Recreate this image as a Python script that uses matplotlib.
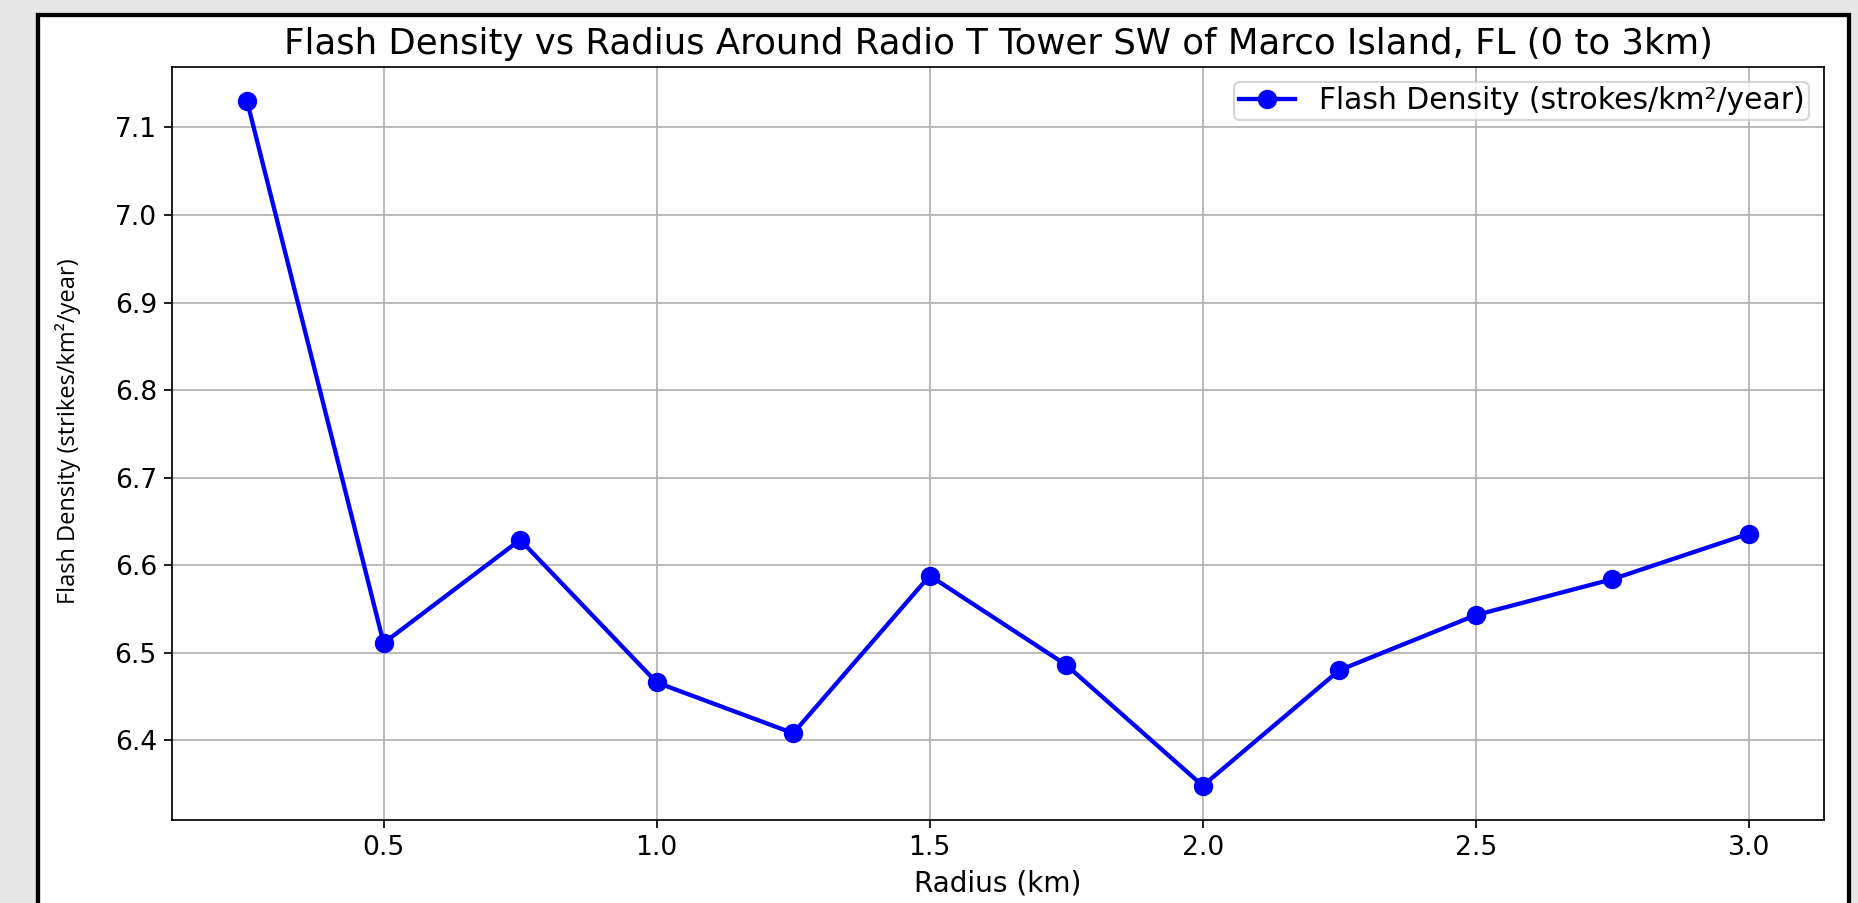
import matplotlib.pyplot as plt
from matplotlib.patches import Rectangle

radius_km = [0.25, 0.5, 0.75, 1.0, 1.25, 1.5, 1.75, 2.0, 2.25, 2.5, 2.75, 3.0]
flash_density = [7.130, 6.511, 6.629, 6.466, 6.408, 6.588, 6.486, 6.348, 6.480, 6.543, 6.584, 6.636]

DPI = 155
fig = plt.figure(figsize=(1858 / DPI, 903 / DPI), dpi=DPI, facecolor="#e6e6e6")

# white panel with a black frame, running off the bottom edge
fig.patches.append(Rectangle((38 / 1858, -0.05), (1849 - 38) / 1858, (903 - 15) / 903 + 0.05,
                             transform=fig.transFigure, facecolor="white",
                             edgecolor="black", linewidth=2.0, zorder=-10))

ax = fig.add_axes([172 / 1858, (903 - 820) / 903, (1824 - 172) / 1858, (820 - 67) / 903])

ax.plot(radius_km, flash_density, marker="o", color="blue", linewidth=2, markersize=8,
        label="Flash Density (strokes/km²/year)")

ax.set_title("Flash Density vs Radius Around Radio T Tower SW of Marco Island, FL (0 to 3km)",
             fontsize=16.5, pad=6)
ax.set_xlabel("Radius (km)", fontsize=13)
ax.set_ylabel("Flash Density (strikes/km²/year)", family="Open Sans", fontsize=11)
ax.yaxis.set_label_coords(-0.055, 0.517)
ax.tick_params(labelsize=12.3)
ax.grid(True)
ax.legend(loc="upper right", fontsize=13.8, borderpad=0.15, handlelength=1.9)

fig.savefig("out.png", dpi=DPI, facecolor=fig.get_facecolor())
